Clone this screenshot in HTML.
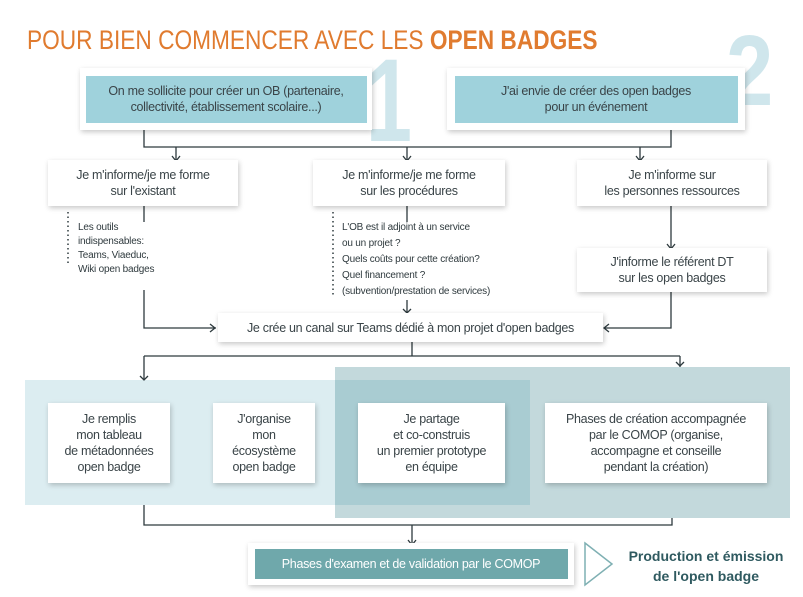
<!DOCTYPE html>
<html><head><meta charset="utf-8"><style>
body{margin:0;width:803px;height:597px;background:#fff;position:relative;overflow:hidden;font-family:"Liberation Sans Narrow","Liberation Sans",sans-serif;color:#3a4448}
.a{position:absolute}
.b{position:absolute;background:#fff;box-shadow:1px 2px 5px rgba(0,0,0,.22);display:flex;align-items:center;justify-content:center;text-align:center;font-size:12.5px;line-height:16px;letter-spacing:-0.3px}
.s{position:absolute;font-size:10px;line-height:14px;color:#2f3a3e;letter-spacing:-0.2px}
</style></head><body>
<div class="a" style="left:25px;top:380px;width:505px;height:125px;background:#dcedf1"></div>
<div class="a" style="left:335px;top:367px;width:455px;height:151px;background:#c3d9dc"></div>
<div class="a" style="left:335px;top:380px;width:195px;height:125px;background:#a9ccd2"></div>
<div class="a" style="left:366px;top:46px;font:bold 118px 'Liberation Sans',sans-serif;color:#cfe6ec;line-height:110px;transform:scaleX(0.7);transform-origin:left">1</div>
<div class="a" style="left:726px;top:16px;font:bold 100px 'Liberation Sans',sans-serif;color:#cfe6ec;line-height:110px;transform:scaleX(0.85);transform-origin:left">2</div>
<div class="a" style="left:27px;top:24px;font-size:27px;color:#e07b2f;line-height:32px;white-space:nowrap;transform:scaleX(0.84);transform-origin:left">POUR BIEN COMMENCER AVEC LES <b>OPEN BADGES</b></div>
<svg class="a" style="left:0;top:0" width="803" height="597"><g stroke="#2e3a3e" stroke-width="1.3" fill="none">
<path d="M144 130V147H671V130M176 147V160M407 147V160M640 147V160"/>
<path d="M144 206V222M144 290V328H216M407 206V222M407 300V313M671 206V248M671 292V328H604"/>
<path d="M412 342V356M144 356H680M144 356V380M680 356V367"/>
<path d="M144 505V525H672V518M412 525V545"/>
<path d="M172 156l4 5 4-5M403 156l4 5 4-5M636 156l4 5 4-5M667 244l4 5 4-5M210 324l5 4-5 4M609 324l-5 4 5 4M403 309l4 4 4-4M140 376l4 4 4-4M676 362l4 4 4-4M408 540l4 5 4-5"/>
</g>
<g stroke="#2e3a3e" stroke-width="1.5" stroke-dasharray="1.5 3"><path d="M68 212V263M333 212V296"/></g>
<path d="M585 543L612 564L585 585Z" fill="none" stroke="#7fb0b3" stroke-width="1.5"/>
</svg>
<div class="b" style="left:80px;top:68px;width:292px;height:62px"><div style="width:281px;height:47px;background:#9fd2dc;display:flex;align-items:center;justify-content:center">On me sollicite pour créer un OB (partenaire,<br>collectivité, établissement scolaire...)</div></div>
<div class="b" style="left:447px;top:68px;width:298px;height:62px"><div style="width:283px;height:47px;background:#9fd2dc;display:flex;align-items:center;justify-content:center">J'ai envie de créer des open badges<br>pour un événement</div></div>
<div class="b" style="left:48px;top:160px;width:190px;height:46px">Je m'informe/je me forme<br>sur l'existant</div>
<div class="b" style="left:313px;top:160px;width:192px;height:46px">Je m'informe/je me forme<br>sur les procédures</div>
<div class="b" style="left:577px;top:160px;width:190px;height:46px">Je m'informe sur<br>les personnes ressources</div>
<div class="b" style="left:577px;top:248px;width:190px;height:44px">J'informe le référent DT<br>sur les open badges</div>
<div class="s" style="left:78px;top:221px">Les outils<br>indispensables:<br>Teams, Viaeduc,<br>Wiki open badges</div>
<div class="s" style="left:342px;top:220px;line-height:16px">L'OB est il adjoint à un service<br>ou un projet ?<br>Quels coûts pour cette création?<br>Quel financement ?<br>(subvention/prestation de services)</div>
<div class="b" style="left:218px;top:313px;width:385px;height:29px">Je crée un canal sur Teams dédié à mon projet d'open badges</div>
<div class="b" style="left:48px;top:403px;width:122px;height:80px">Je remplis<br>mon tableau<br>de métadonnées<br>open badge</div>
<div class="b" style="left:213px;top:403px;width:102px;height:80px">J'organise<br>mon<br>écosystème<br>open badge</div>
<div class="b" style="left:358px;top:403px;width:147px;height:80px">Je partage<br>et co-construis<br>un premier prototype<br>en équipe</div>
<div class="b" style="left:545px;top:403px;width:222px;height:80px">Phases de création accompagnée<br>par le COMOP (organise,<br>accompagne et conseille<br>pendant la création)</div>
<div class="b" style="left:248px;top:543px;width:326px;height:42px"><div style="width:313px;height:30px;background:#6fa8ab;color:#fff;display:flex;align-items:center;justify-content:center">Phases d'examen et de validation par le COMOP</div></div>
<div class="a" style="left:618px;top:546px;width:176px;text-align:center;font:bold 14px/20px 'Liberation Sans',sans-serif;color:#2f5a60">Production et émission<br>de l'open badge</div>
</body></html>
